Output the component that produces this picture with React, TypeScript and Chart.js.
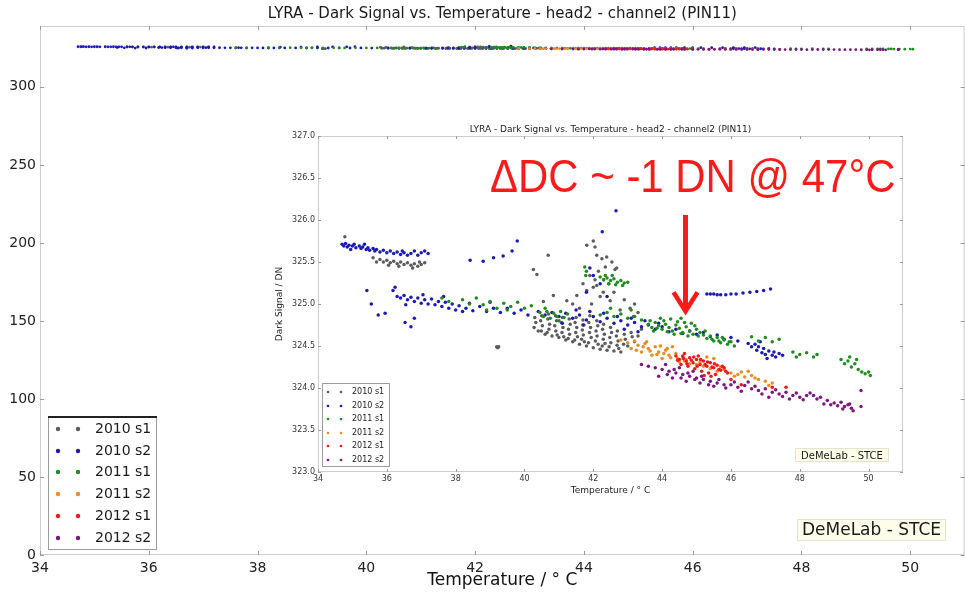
import React, { useEffect, useRef } from "react";
import { Chart, registerables } from "chart.js";
Chart.register(...registerables);

type P = [number, number];

const seriesNames = ["2010 s1", "2010 s2", "2011 s1", "2011 s2", "2012 s1", "2012 s2"];
const seriesColors = ["#5c5c5c", "#1a1ab8", "#1f8c1f", "#ec8c22", "#f01818", "#7d1680"];

const pts2010s1: P[] = [
  [35.6, 325.55], [35.8, 325.53], [35.9, 325.5], [36.0, 325.52], [36.1, 325.49], [36.2, 325.51], [36.3, 325.48], [36.4, 325.5],
  [36.5, 325.47], [36.6, 325.49], [36.7, 325.46], [36.8, 325.48], [36.9, 325.45], [37.0, 325.47], [37.1, 325.49], [35.7, 325.5],
  [36.05, 325.46], [36.35, 325.45], [36.75, 325.43], [36.95, 325.5], [34.78, 325.8],
  [39.19, 324.49], [39.22, 324.48], [39.25, 324.49],
  [40.26, 325.41], [40.36, 325.35], [40.69, 325.58],
  [41.81, 325.7], [42.0, 325.75], [42.05, 325.68], [42.1, 325.58], [42.25, 325.54], [42.39, 325.56], [42.54, 325.5], [42.63, 325.41],
  [42.68, 325.43], [40.55, 325.03], [40.84, 325.1], [41.23, 325.04], [41.52, 325.1], [41.81, 325.16], [42.0, 325.2], [42.1, 325.22],
  [42.29, 325.14], [42.49, 325.04], [42.78, 324.93], [43.07, 324.95], [43.17, 324.85], [41.9, 325.34], [42.15, 325.39], [42.3, 325.29],
  [42.45, 325.24], [41.7, 325.24], [42.2, 325.09], [41.4, 325.0], [42.6, 325.14], [42.9, 325.05], [43.2, 325.0], [43.3, 324.9],
  [42.05, 325.29], [42.35, 325.44], [41.95, 325.0], [41.6, 324.95],
  [40.3, 324.84], [40.33, 324.78], [40.28, 324.72],
  [40.5, 324.86], [40.47, 324.8], [40.52, 324.74], [40.49, 324.68],
  [40.7, 324.88], [40.68, 324.82], [40.73, 324.76], [40.71, 324.7], [40.66, 324.66],
  [40.9, 324.86], [40.93, 324.8], [40.88, 324.74], [40.91, 324.68], [40.95, 324.63],
  [41.1, 324.84], [41.07, 324.78], [41.12, 324.72], [41.09, 324.66], [41.14, 324.61],
  [41.3, 324.82], [41.33, 324.76], [41.28, 324.7], [41.31, 324.64], [41.27, 324.59],
  [41.5, 324.84], [41.47, 324.78], [41.52, 324.72], [41.49, 324.66], [41.54, 324.61], [41.46, 324.57],
  [41.7, 324.81], [41.73, 324.75], [41.68, 324.69], [41.71, 324.63], [41.66, 324.58], [41.74, 324.55],
  [41.9, 324.86], [41.87, 324.78], [41.92, 324.72], [41.89, 324.66], [41.94, 324.6], [41.86, 324.54],
  [42.1, 324.8], [42.13, 324.74], [42.08, 324.68], [42.11, 324.62], [42.06, 324.56], [42.14, 324.52],
  [42.3, 324.76], [42.27, 324.7], [42.32, 324.64], [42.29, 324.58], [42.34, 324.53], [42.26, 324.5],
  [42.5, 324.72], [42.53, 324.66], [42.48, 324.6], [42.51, 324.54], [42.46, 324.49],
  [42.7, 324.68], [42.67, 324.62], [42.72, 324.56], [42.69, 324.51], [42.74, 324.47],
  [42.9, 324.64], [42.93, 324.58], [42.88, 324.52], [43.1, 324.66], [43.13, 324.61],
  [41.6, 324.52], [41.8, 324.5], [42.0, 324.48], [42.2, 324.46], [42.4, 324.45], [42.6, 324.44], [42.8, 324.43], [43.0, 324.5],
  [43.2, 324.55], [41.4, 324.55], [41.2, 324.57], [41.0, 324.6], [40.8, 324.62], [40.6, 324.64], [40.4, 324.68], [43.3, 324.62],
  [43.4, 324.7],
];

const pts2010s2: P[] = [
  [34.7, 325.71], [34.75, 325.69], [34.8, 325.72], [34.85, 325.68], [34.9, 325.7], [35.0, 325.69], [35.05, 325.71], [35.1, 325.67],
  [35.2, 325.69], [35.25, 325.66], [35.3, 325.68], [35.4, 325.65], [35.45, 325.67], [35.5, 325.64], [35.6, 325.66], [35.65, 325.63],
  [35.7, 325.65], [35.8, 325.62], [35.9, 325.64], [36.0, 325.61], [36.1, 325.63], [36.2, 325.6], [36.3, 325.62], [36.4, 325.59],
  [36.5, 325.61], [36.6, 325.58], [36.7, 325.6], [36.8, 325.63], [36.9, 325.58], [37.0, 325.61], [37.1, 325.63], [37.2, 325.6],
  [36.45, 325.63], [35.35, 325.71], [34.95, 325.65],
  [35.42, 325.16], [35.55, 325.0], [35.75, 324.87], [35.95, 324.89], [36.24, 325.2], [36.18, 325.16], [36.53, 324.78], [36.7, 324.73],
  [36.8, 324.83],
  [36.3, 325.09], [36.4, 325.07], [36.5, 325.1], [36.6, 325.05], [36.7, 325.08], [36.8, 325.03], [36.9, 325.07], [37.0, 325.01],
  [37.1, 325.05], [37.2, 325.0], [37.3, 325.06], [37.4, 324.99], [37.5, 325.03], [37.6, 324.97], [37.7, 325.02], [37.8, 324.95],
  [37.9, 325.0], [38.0, 324.93], [38.1, 324.98], [38.2, 324.91], [38.3, 324.95], [38.5, 324.92], [38.7, 324.97], [38.9, 324.91],
  [39.1, 324.95], [39.3, 324.9], [39.5, 324.95], [39.7, 324.89], [39.9, 324.93], [40.1, 324.87], [36.55, 324.99], [37.05, 325.11],
  [37.65, 325.09], [38.4, 325.01], [39.0, 325.02],
  [38.42, 325.52], [38.8, 325.51], [39.1, 325.55], [39.38, 325.57], [39.64, 325.63], [39.79, 325.75],
  [42.66, 326.11], [42.26, 325.86],
  [40.4, 324.91], [40.6, 324.87], [40.8, 324.9], [41.0, 324.85], [41.2, 324.89], [41.4, 324.83], [41.6, 324.87], [41.8, 324.81],
  [42.0, 324.85], [42.2, 324.79], [42.4, 324.83], [42.6, 324.77], [42.8, 324.8], [43.0, 324.75], [43.2, 324.78], [43.4, 324.73],
  [43.6, 324.75], [43.8, 324.7], [44.0, 324.73], [44.2, 324.67], [44.4, 324.7], [44.6, 324.65], [41.5, 324.93], [41.9, 324.91],
  [42.3, 324.89], [42.7, 324.85], [43.1, 324.83], [43.5, 324.8], [43.9, 324.77], [42.9, 324.7], [43.3, 324.67], [41.1, 324.77],
  [41.7, 324.75],
  [41.8, 325.14], [42.0, 325.34], [42.2, 325.24], [41.9, 325.43], [42.4, 325.09],
  [44.8, 324.68], [45.0, 324.64], [45.2, 324.66], [45.4, 324.61], [45.6, 324.63], [45.8, 324.58], [46.0, 324.6], [46.2, 324.56],
  [46.5, 324.53], [46.6, 324.49], [46.7, 324.52], [46.75, 324.45], [46.8, 324.49], [46.9, 324.42], [46.95, 324.47], [47.0, 324.4],
  [47.1, 324.44], [47.2, 324.39], [47.25, 324.43], [47.3, 324.37], [47.4, 324.41], [46.85, 324.55], [47.05, 324.35], [47.5, 324.39],
  [45.3, 325.12], [45.4, 325.12], [45.5, 325.12], [45.6, 325.11], [45.7, 325.11], [45.85, 325.11], [46.0, 325.12], [46.15, 325.12],
  [46.35, 325.13], [46.55, 325.14], [46.75, 325.15], [46.95, 325.16], [47.15, 325.18],
];

const pts2011s1: P[] = [
  [38.2, 325.05], [38.4, 325.0], [38.6, 325.07], [38.8, 324.99], [39.0, 325.03], [39.2, 324.95], [39.4, 325.01], [39.6, 324.97],
  [39.8, 325.02], [40.0, 324.95], [40.2, 324.98], [38.9, 324.93], [39.5, 324.93], [37.6, 325.07], [37.8, 325.03],
  [41.75, 325.44], [41.8, 325.39], [41.78, 325.34], [42.2, 325.32], [42.3, 325.29], [42.4, 325.31], [42.5, 325.28], [42.6, 325.3],
  [42.7, 325.26], [42.8, 325.28], [42.9, 325.25], [43.0, 325.26], [42.45, 325.24], [42.65, 325.23], [42.85, 325.22], [42.35, 325.34],
  [42.55, 325.34],
  [40.45, 324.9], [40.55, 324.85], [40.65, 324.91], [40.75, 324.83], [40.85, 324.89], [40.95, 324.85], [41.05, 324.91], [41.15, 324.84],
  [41.25, 324.88], [40.6, 324.95], [41.0, 324.8],
  [42.2, 324.87], [42.4, 324.9], [42.6, 324.85], [42.8, 324.88], [43.0, 324.83], [43.2, 324.85], [43.4, 324.81], [42.5, 324.95],
  [43.1, 324.93],
  [43.6, 324.76], [43.7, 324.72], [43.8, 324.78], [43.9, 324.74], [44.0, 324.7], [44.1, 324.76], [44.2, 324.72], [44.3, 324.68],
  [44.4, 324.75], [44.5, 324.71], [44.6, 324.66], [44.7, 324.73], [44.8, 324.68], [44.9, 324.64], [45.0, 324.7], [45.1, 324.66],
  [43.75, 324.68], [44.05, 324.8], [44.35, 324.64], [44.65, 324.78], [44.95, 324.74], [44.25, 324.82],
  [43.65, 324.8], [43.85, 324.71], [44.15, 324.67], [44.45, 324.79], [44.55, 324.65], [44.75, 324.62], [44.85, 324.77], [45.05, 324.62],
  [45.25, 324.68], [45.45, 324.58], [45.65, 324.56], [45.75, 324.6], [45.95, 324.55], [43.95, 324.83], [44.55, 324.83],
  [45.2, 324.63], [45.3, 324.59], [45.4, 324.62], [45.5, 324.56], [45.6, 324.6], [45.7, 324.54], [45.8, 324.57], [45.9, 324.52],
  [46.0, 324.55], [46.1, 324.5],
  [46.6, 324.61], [46.8, 324.56], [47.0, 324.6], [47.2, 324.55], [47.4, 324.58],
  [47.8, 324.43], [48.0, 324.4], [48.2, 324.42], [48.4, 324.37], [48.5, 324.4], [47.9, 324.37],
  [49.2, 324.34], [49.3, 324.29], [49.4, 324.32], [49.5, 324.25], [49.6, 324.29], [49.7, 324.22], [49.8, 324.19], [49.9, 324.17],
  [50.0, 324.19], [50.05, 324.15], [49.45, 324.37], [49.65, 324.34],
];

const pts2011s2: P[] = [
  [42.8, 324.57], [43.0, 324.54], [43.2, 324.56], [43.3, 324.51], [43.5, 324.53], [43.6, 324.47], [43.8, 324.49], [43.9, 324.43],
  [44.1, 324.45], [44.2, 324.39], [44.4, 324.41], [44.6, 324.37], [44.7, 324.34], [43.4, 324.43], [43.7, 324.39], [44.0, 324.35],
  [43.1, 324.47], [44.3, 324.49], [44.5, 324.31], [44.8, 324.29],
  [43.25, 324.45], [43.45, 324.49], [43.65, 324.44], [43.85, 324.4], [44.05, 324.41], [44.25, 324.36], [44.45, 324.35], [44.65, 324.32],
  [44.15, 324.47], [43.55, 324.55], [43.95, 324.5],
  [45.0, 324.28], [45.2, 324.26], [45.4, 324.23], [45.6, 324.2], [45.8, 324.22], [46.0, 324.18], [45.1, 324.31], [45.7, 324.25],
  [46.2, 324.16], [46.4, 324.13], [46.6, 324.15], [46.8, 324.1], [47.0, 324.08], [47.2, 324.06], [46.5, 324.2], [46.1, 324.14],
  [46.7, 324.12], [47.1, 324.03], [46.3, 324.19],
  [45.3, 324.37], [45.5, 324.35],
];

const pts2012s1: P[] = [
  [44.4, 324.38], [44.5, 324.34], [44.6, 324.38], [44.7, 324.32], [44.8, 324.36], [44.9, 324.3], [45.0, 324.34], [45.1, 324.28],
  [45.2, 324.32], [45.3, 324.26], [45.4, 324.3], [45.5, 324.24], [45.6, 324.27], [45.7, 324.21], [45.8, 324.24], [45.9, 324.18],
  [44.55, 324.28], [44.75, 324.26], [44.95, 324.23], [45.15, 324.2], [45.35, 324.18], [45.55, 324.16], [44.65, 324.41], [45.05, 324.38],
  [44.45, 324.33], [44.62, 324.35], [44.85, 324.33], [45.02, 324.26], [45.25, 324.28], [45.45, 324.25], [45.65, 324.22], [45.85, 324.2],
  [44.72, 324.29], [44.92, 324.37], [45.12, 324.34], [45.32, 324.31], [45.52, 324.29], [45.75, 324.26], [45.42, 324.14], [45.22, 324.15],
  [46.0, 324.1], [46.3, 324.04], [47.2, 324.01], [47.6, 324.01],
];

const pts2012s2: P[] = [
  [43.4, 324.28], [43.6, 324.26], [43.8, 324.24], [44.0, 324.22], [44.2, 324.2], [44.4, 324.18], [44.6, 324.16], [44.8, 324.14],
  [45.0, 324.12], [45.2, 324.1], [45.4, 324.08], [45.6, 324.06], [45.8, 324.04], [43.9, 324.14], [44.3, 324.12], [44.7, 324.08],
  [45.1, 324.06], [45.5, 324.02], [44.1, 324.28], [44.5, 324.24], [44.9, 324.2],
  [44.15, 324.16], [44.35, 324.22], [44.55, 324.12], [44.75, 324.18], [44.95, 324.1], [45.15, 324.14], [45.35, 324.04], [45.65, 324.1],
  [45.85, 324.0],
  [46.0, 324.04], [46.2, 324.01], [46.4, 324.03], [46.6, 323.99], [46.8, 323.97], [47.0, 323.99], [47.2, 323.95], [47.4, 323.93],
  [47.6, 323.95], [47.8, 323.91], [48.0, 323.89], [48.2, 323.91], [46.5, 324.07], [47.1, 323.89], [47.7, 323.87],
  [46.1, 324.07], [46.3, 323.96], [46.7, 324.02], [46.9, 323.93], [47.3, 323.98], [47.5, 323.9], [47.9, 323.94], [48.1, 323.86],
  [48.3, 323.94],
  [48.4, 323.91], [48.5, 323.87], [48.6, 323.89], [48.8, 323.85], [49.0, 323.82], [49.1, 323.79], [49.2, 323.83], [49.3, 323.78],
  [49.4, 323.8], [49.5, 323.76], [48.7, 323.81], [48.9, 323.8], [49.25, 323.75], [49.45, 323.81], [49.55, 323.73],
  [49.78, 323.97], [49.78, 323.78],
];

const allSeries = [pts2010s1, pts2010s2, pts2011s1, pts2011s2, pts2012s1, pts2012s2];

const xTicks = [34, 36, 38, 40, 42, 44, 46, 48, 50];
const mainYTicks = [0, 50, 100, 150, 200, 250, 300];
const insetYTicks = [323.0, 323.5, 324.0, 324.5, 325.0, 325.5, 326.0, 326.5, 327.0];
const xMin = 34, xMax = 51;
const mainYMin = 0, mainYMax = 339;
const insetYMin = 323, insetYMax = 327;

const titleText = "LYRA - Dark Signal vs. Temperature - head2 - channel2 (PIN11)";
const xAxisTitle = "Temperature / ° C";
const yAxisTitle = "Dark Signal / DN";
const creditText = "DeMeLab - STCE";
const annotText = "ΔDC ~ -1 DN @ 47°C";
const annotX = 39.0, annotY = 326.33, annotRightX = 50.78;
const arrowX = 44.68, arrowTop = 326.06, arrowTip = 324.89;

const FONT = '"DejaVu Sans", sans-serif';

function makeDatasets(radius: number) {
  return allSeries.map((pts, i) => ({
    label: seriesNames[i],
    data: pts.map(([x, y]) => ({ x, y })),
    showLine: false,
    pointRadius: radius,
    pointHoverRadius: radius,
    pointBorderWidth: 0,
    pointBackgroundColor: seriesColors[i],
    backgroundColor: seriesColors[i],
    borderColor: seriesColors[i],
    order: 5 - i,
  }));
}

function drawFrame(chart: any, yTicks: number[], len: number) {
  const { ctx, chartArea: a, scales } = chart;
  ctx.save();
  ctx.strokeStyle = "#cdcdcd";
  ctx.lineWidth = 1;
  ctx.strokeRect(a.left + 0.5, a.top + 0.5, a.right - a.left - 1, a.bottom - a.top - 1);
  ctx.strokeStyle = "#9a9a9a";
  ctx.beginPath();
  for (const v of xTicks) {
    const x = Math.round(scales.x.getPixelForValue(v)) + 0.5;
    ctx.moveTo(x, a.bottom); ctx.lineTo(x, a.bottom - len);
    ctx.moveTo(x, a.top); ctx.lineTo(x, a.top + len);
  }
  for (const v of yTicks) {
    const y = Math.round(scales.y.getPixelForValue(v)) + 0.5;
    ctx.moveTo(a.left, y); ctx.lineTo(a.left + len, y);
    ctx.moveTo(a.right, y); ctx.lineTo(a.right - len, y);
  }
  ctx.stroke();
  ctx.restore();
}

function drawLegend(ctx: CanvasRenderingContext2D, box: number[], rows: number[], mx: number[], tx: number, fontPx: number, r: number, topBlack: boolean) {
  const [l, t, rr, b] = box;
  ctx.save();
  ctx.fillStyle = "#ffffff";
  ctx.fillRect(l, t, rr - l, b - t);
  ctx.strokeStyle = "#9c9c9c";
  ctx.lineWidth = 1;
  ctx.strokeRect(l + 0.5, t + 0.5, rr - l - 1, b - t - 1);
  if (topBlack) {
    ctx.strokeStyle = "#222";
    ctx.lineWidth = 2;
    ctx.beginPath(); ctx.moveTo(l, t + 1); ctx.lineTo(rr, t + 1); ctx.stroke();
  }
  ctx.font = `${fontPx}px ${FONT}`;
  ctx.textBaseline = "middle";
  ctx.textAlign = "left";
  seriesNames.forEach((name, i) => {
    ctx.fillStyle = seriesColors[i];
    for (const x of mx) { ctx.beginPath(); ctx.arc(x, rows[i], r, 0, Math.PI * 2); ctx.fill(); }
    ctx.fillStyle = "#1a1a1a";
    ctx.fillText(name, tx, rows[i]);
  });
  ctx.restore();
}

function drawCredit(ctx: CanvasRenderingContext2D, box: number[], fontPx: number) {
  const [l, t, r, b] = box;
  ctx.save();
  ctx.fillStyle = "#fdfdea";
  ctx.fillRect(l, t, r - l, b - t);
  ctx.strokeStyle = "#e4e4d0";
  ctx.strokeRect(l + 0.5, t + 0.5, r - l - 1, b - t - 1);
  ctx.fillStyle = "#1a1a1a";
  ctx.font = `${fontPx}px ${FONT}`;
  ctx.textAlign = "center";
  ctx.textBaseline = "middle";
  ctx.fillText(creditText, (l + r) / 2, (t + b) / 2 + 1);
  ctx.restore();
}

const mainDecor = {
  id: "mainDecor",
  afterDraw(chart: any) {
    const { ctx, chartArea: a } = chart;
    drawFrame(chart, mainYTicks, 4);
    ctx.save();
    ctx.fillStyle = "#1a1a1a";
    ctx.font = `15px ${FONT}`;
    ctx.textAlign = "center";
    ctx.textBaseline = "middle";
    ctx.fillText(titleText, (a.left + a.right) / 2, 14);
    ctx.restore();
    drawLegend(ctx, [48, 416, 157, 550], [429, 451, 472, 494, 516, 538], [58, 78], 95, 14, 2.2, true);
    drawCredit(ctx, [797, 519, 946, 541], 17);
  },
};

const insetDecor = {
  id: "insetDecor",
  afterDraw(chart: any) {
    const { ctx, chartArea: a, scales } = chart;
    drawFrame(chart, insetYTicks, 3);
    ctx.save();
    ctx.fillStyle = "#1a1a1a";
    ctx.font = `9px ${FONT}`;
    ctx.textAlign = "center";
    ctx.textBaseline = "middle";
    ctx.fillText(titleText, (a.left + a.right) / 2, 12);
    ctx.restore();
    drawLegend(ctx, [50, 265, 118, 349], [274, 288, 301, 315, 328, 342], [56, 69], 80, 8, 1.3, false);
    drawCredit(ctx, [523, 330, 617, 344], 10);
    const tx = scales.x.getPixelForValue(annotX);
    const tr = scales.x.getPixelForValue(annotRightX);
    const ty = scales.y.getPixelForValue(annotY);
    ctx.save();
    ctx.fillStyle = "#ff1a1a";
    ctx.font = `46px "Liberation Sans", sans-serif`;
    ctx.textAlign = "left";
    ctx.textBaseline = "alphabetic";
    ctx.fillText(annotText, tx, ty, tr - tx);
    const ax = scales.x.getPixelForValue(arrowX);
    const at = scales.y.getPixelForValue(arrowTop);
    const ab = scales.y.getPixelForValue(arrowTip);
    ctx.strokeStyle = "#ff1a1a";
    ctx.lineWidth = 5;
    ctx.beginPath();
    ctx.moveTo(ax, at); ctx.lineTo(ax, ab - 3);
    ctx.stroke();
    ctx.lineWidth = 4.5;
    ctx.lineJoin = "miter";
    ctx.beginPath();
    ctx.moveTo(ax - 12, ab - 21); ctx.lineTo(ax, ab - 2); ctx.lineTo(ax + 12, ab - 21);
    ctx.stroke();
    ctx.restore();
  },
};

function MainChart() {
  const ref = useRef<HTMLCanvasElement>(null);
  useEffect(() => {
    const chart = new Chart(ref.current as HTMLCanvasElement, {
      type: "scatter",
      data: { datasets: makeDatasets(1.4) as any },
      options: {
        animation: false,
        responsive: false,
        devicePixelRatio: 1,
        layout: { padding: { top: 26, right: 1, left: 0, bottom: 0 } },
        plugins: { legend: { display: false }, tooltip: { enabled: false }, title: { display: false } },
        scales: {
          x: {
            type: "linear", min: xMin, max: xMax,
            afterBuildTicks: (s: any) => { s.ticks = xTicks.map((v) => ({ value: v })); },
            afterFit: (s: any) => { s.height = 37; },
            grid: { display: false, drawTicks: false },
            border: { display: false },
            ticks: { color: "#222", font: { size: 14, family: FONT }, padding: 5, maxRotation: 0 },
            title: { display: true, text: xAxisTitle, color: "#111", font: { size: 17, family: FONT }, padding: { top: 0, bottom: 1 } },
          },
          y: {
            type: "linear", min: mainYMin, max: mainYMax,
            afterBuildTicks: (s: any) => { s.ticks = mainYTicks.map((v) => ({ value: v })); },
            afterFit: (s: any) => { s.width = 40; },
            grid: { display: false, drawTicks: false },
            border: { display: false },
            ticks: { color: "#222", font: { size: 14, family: FONT }, padding: 4 },
          },
        },
      },
      plugins: [mainDecor],
    });
    return () => chart.destroy();
  }, []);
  return <canvas ref={ref} width={966} height={592} style={{ position: "absolute", left: 0, top: 0, width: 966, height: 592 }} />;
}

function InsetChart() {
  const ref = useRef<HTMLCanvasElement>(null);
  useEffect(() => {
    const chart = new Chart(ref.current as HTMLCanvasElement, {
      type: "scatter",
      data: { datasets: makeDatasets(1.75) as any },
      options: {
        animation: false,
        responsive: false,
        devicePixelRatio: 1,
        layout: { padding: { top: 18, right: 9, left: 0, bottom: 0 } },
        plugins: { legend: { display: false }, tooltip: { enabled: false }, title: { display: false } },
        scales: {
          x: {
            type: "linear", min: xMin, max: xMax,
            afterBuildTicks: (s: any) => { s.ticks = xTicks.map((v) => ({ value: v })); },
            afterFit: (s: any) => { s.height = 26; },
            grid: { display: false, drawTicks: false },
            border: { display: false },
            ticks: { color: "#333", font: { size: 8, family: FONT }, padding: 2, maxRotation: 0 },
            title: { display: true, text: xAxisTitle, color: "#222", font: { size: 9, family: FONT }, padding: { top: 0, bottom: 2 } },
          },
          y: {
            type: "linear", min: insetYMin, max: insetYMax,
            afterBuildTicks: (s: any) => { s.ticks = insetYTicks.map((v) => ({ value: v })); },
            afterFit: (s: any) => { s.width = 46; },
            grid: { display: false, drawTicks: false },
            border: { display: false },
            ticks: { color: "#333", font: { size: 8, family: FONT }, padding: 3, callback: (v: any) => Number(v).toFixed(1) },
            title: { display: true, text: yAxisTitle, color: "#222", font: { size: 9, family: FONT }, padding: { top: 2, bottom: 0 } },
          },
        },
      },
      plugins: [insetDecor],
    });
    return () => chart.destroy();
  }, []);
  return <canvas ref={ref} width={640} height={380} style={{ position: "absolute", left: 272, top: 118, width: 640, height: 380 }} />;
}

export default function App() {
  return (
    <div style={{ position: "absolute", left: 0, top: 0, width: 966, height: 592, background: "#ffffff", overflow: "hidden" }}>
      <MainChart />
      <InsetChart />
    </div>
  );
}
